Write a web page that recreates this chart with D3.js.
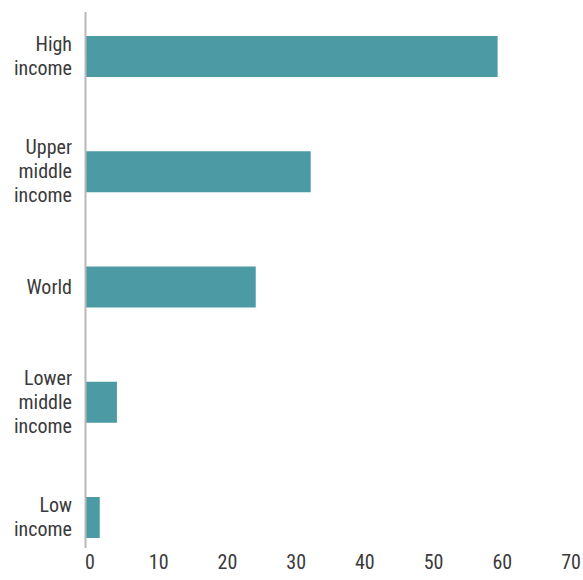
<!DOCTYPE html>
<html><head><meta charset="utf-8">
<script src="https://cdn.jsdelivr.net/npm/d3@7"></script>
<style>
body{margin:0;background:#fff;}
svg text{font-family:"Liberation Sans Narrow","Arial Narrow","Roboto Condensed","Liberation Sans",sans-serif;fill:#3a3a3a;}
</style></head>
<body><svg id="c" width="583" height="580"></svg>
<script>
const categories = ["High income","Upper middle income","World","Lower middle income","Low income"];
const categoryLines = [["High","income"],["Upper","middle","income"],["World"],["Lower","middle","income"],["Low","income"]];
const values = [59.9, 32.7, 24.7, 4.5, 2.0];
const tickValues = [0,10,20,30,40,50,60,70];

const svg = d3.select("#c");
const x = d3.scaleLinear().domain([0,70]).range([86,567]);
const yc = d3.scalePoint().domain(categories).range([56.5,517.5]);
const bh = 41;

svg.selectAll("rect.bar").data(values).join("rect")
  .attr("class","bar")
  .attr("x", x(0))
  .attr("y",(d,i)=>yc(categories[i]) - bh/2)
  .attr("width", d=>x(d)-x(0))
  .attr("height", bh)
  .attr("fill","#4b9aa4");

// vertical axis line
svg.append("line").attr("x1",85.5).attr("x2",85.5).attr("y1",12).attr("y2",548)
  .attr("stroke","#b8b8b8").attr("stroke-width",2);

// category labels
const lh = 24;
categories.forEach((c,i)=>{
  const lines = categoryLines[i];
  const cy = yc(c);
  const t = svg.append("text").attr("text-anchor","end").attr("font-size",20);
  lines.forEach((l,j)=>{
    t.append("tspan").attr("x",72)
      .attr("y", cy + (j-(lines.length-1)/2)*lh)
      .attr("dy","0.33em").text(l);
  });
});

// x axis tick labels
const ax = svg.append("g").attr("transform","translate(0,562)");
ax.selectAll("text").data(tickValues).join("text")
  .attr("x", d=>x(d)+4).attr("y",0).attr("dy","0.36em")
  .attr("text-anchor","middle").attr("font-size",20)
  .text(d=>d);
</script></body></html>
